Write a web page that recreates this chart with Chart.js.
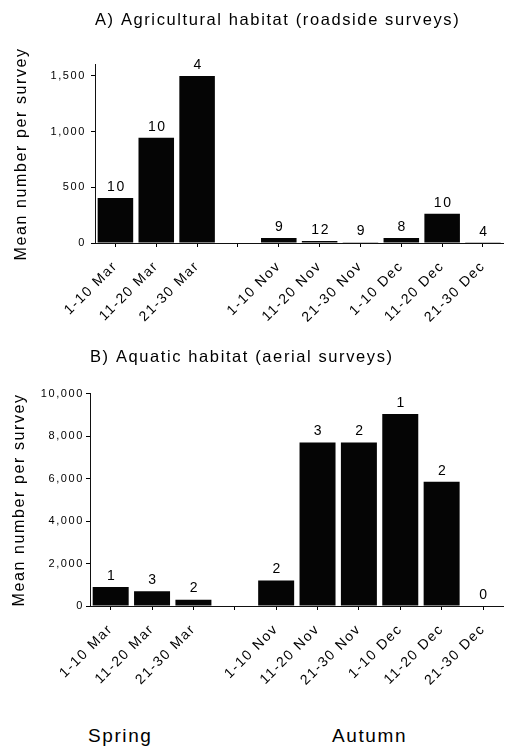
<!DOCTYPE html>
<html>
<head>
<meta charset="utf-8">
<script src="https://cdn.jsdelivr.net/npm/chart.js@4/dist/chart.umd.min.js"></script>
<style>
  body { margin: 0; background: #fff; }
  #wrap { position: relative; width: 506px; height: 747px; }
  canvas { position: absolute; left: 0; }
  #agriChart { top: 0; }
  #aquaChart { top: 330px; }
  .season {
    position: absolute;
    font: 19px "Liberation Sans", Arial, Helvetica, sans-serif;
    line-height: 19px;
    letter-spacing: 1.6px;
    color: #000;
  }
</style>
</head>
<body>
<div id="wrap">
  <canvas id="agriChart" width="506" height="335"></canvas>
  <canvas id="aquaChart" width="506" height="365"></canvas>
  <div class="season" style="left:88px; top:726px;">Spring</div>
  <div class="season" style="left:332px; top:726px;">Autumn</div>
</div>
<script>
// ten-day periods, with an empty slot between spring and autumn
const periods = ['1-10 Mar', '11-20 Mar', '21-30 Mar', '', '1-10 Nov', '11-20 Nov', '21-30 Nov', '1-10 Dec', '11-20 Dec', '21-30 Dec'];

// A) agricultural habitat, roadside surveys
const agriMeans = [405, 945, 1500, null, 45, 18, 6, 45, 262, 3];
const agriSurveys = [10, 10, 4, null, 9, 12, 9, 8, 10, 4];
const agriTicks = [0, 500, 1000, 1500];

// B) aquatic habitat, aerial surveys
const aquaMeans = [900, 700, 300, null, 1200, 7700, 7700, 9050, 5850, 0];
const aquaSurveys = [1, 3, 2, null, 2, 3, 2, 1, 2, 0];
const aquaTicks = [0, 2000, 4000, 6000, 8000, 10000];

const fontFamily = '"Liberation Sans", Arial, Helvetica, sans-serif';
Chart.defaults.font.family = fontFamily;
Chart.defaults.color = '#000';

// the scanned figure has loose letter spacing everywhere
const spacingPlugin = {
  id: 'spacing',
  beforeUpdate(chart) { chart.ctx.letterSpacing = '1.6px'; },
  beforeDraw(chart) { chart.ctx.letterSpacing = '1.6px'; },
};

// number of surveys written above each bar
const countLabels = {
  id: 'countLabels',
  afterDatasetsDraw(chart, args, opts) {
    const ctx = chart.ctx;
    const meta = chart.getDatasetMeta(0);
    ctx.save();
    ctx.font = '14px ' + fontFamily;
    ctx.fillStyle = '#000';
    ctx.textAlign = 'center';
    ctx.textBaseline = 'bottom';
    meta.data.forEach((bar, i) => {
      const n = opts.counts[i];
      if (n === null || n === undefined) return;
      ctx.fillText(String(n), bar.x + 1, bar.y - 4);
    });
    ctx.restore();
  },
};

function makeChart(id, cfg) {
  const ctx = document.getElementById(id).getContext('2d');
  return new Chart(ctx, {
    type: 'bar',
    data: {
      labels: periods,
      datasets: [{
        data: cfg.means,
        backgroundColor: '#050505',
        borderWidth: 0,
        barPercentage: 0.87,
        categoryPercentage: 1,
      }],
    },
    plugins: [spacingPlugin, countLabels],
    options: {
      responsive: false,
      animation: false,
      devicePixelRatio: 1,
      layout: { padding: { left: 0, right: cfg.padRight, top: 0, bottom: 0 } },
      plugins: {
        legend: { display: false },
        tooltip: { enabled: false },
        countLabels: { counts: cfg.counts },
        title: {
          display: true,
          text: cfg.title,
          align: 'start',
          fullSize: false,
          color: '#000',
          font: { size: 16.5, weight: 'normal' },
          padding: cfg.titlePad,
        },
      },
      scales: {
        x: {
          afterFit: (scale) => { scale.height = cfg.xHeight; },
          grid: { offset: false, drawOnChartArea: false, drawTicks: true, tickLength: 4, tickColor: '#000' },
          border: { display: true, color: '#111', width: 1 },
          ticks: {
            autoSkip: false,
            minRotation: 45,
            maxRotation: 45,
            padding: 11,
            color: '#000',
            font: { size: 14 },
          },
        },
        y: {
          min: 0,
          max: cfg.max,
          afterFit: (scale) => { scale.width = cfg.yWidth; },
          afterBuildTicks: (scale) => { scale.ticks = cfg.ticks.map(v => ({ value: v })); },
          grid: { drawOnChartArea: false, drawTicks: true, tickLength: 4, tickColor: '#000' },
          border: { display: true, color: '#111', width: 1 },
          ticks: {
            padding: cfg.tickPad,
            color: '#000',
            font: { size: 11 },
            callback: (v) => Number(v).toLocaleString('en-US'),
          },
          title: {
            display: true,
            text: 'Mean number per survey',
            color: '#000',
            font: { size: 16 },
            padding: { top: cfg.yTitlePad, bottom: 0 },
          },
        },
      },
    },
  });
}

makeChart('agriChart', {
  title: 'A) Agricultural habitat (roadside surveys)',
  means: agriMeans,
  counts: agriSurveys,
  ticks: agriTicks,
  max: 1600,
  titlePad: { top: 11, bottom: 34 },
  xHeight: 92,
  yWidth: 95,
  padRight: 0,
  tickPad: 5,
  yTitlePad: 12,
});

makeChart('aquaChart', {
  title: 'B) Aquatic habitat (aerial surveys)',
  means: aquaMeans,
  counts: aquaSurveys,
  ticks: aquaTicks,
  max: 10000,
  titlePad: { top: 18, bottom: 26 },
  xHeight: 89,
  yWidth: 90,
  padRight: 2,
  tickPad: 2,
  yTitlePad: 10,
});
</script>
</body>
</html>
